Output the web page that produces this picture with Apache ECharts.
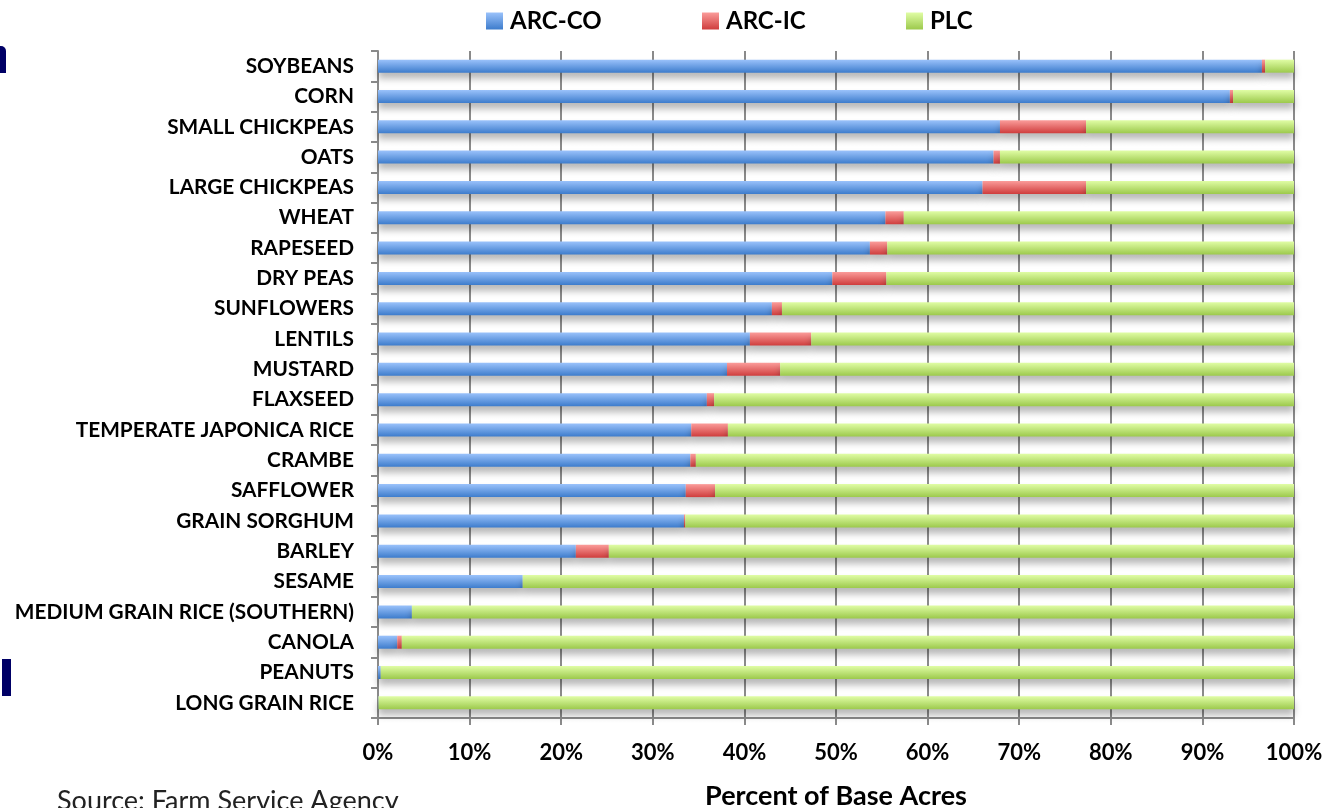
<!DOCTYPE html>
<html>
<head>
<meta charset="utf-8">
<script src="https://cdn.jsdelivr.net/npm/echarts@6/dist/echarts.min.js"></script>
<style>html,body{margin:0;padding:0;background:#fff;}#c{width:1328px;height:808px;}</style>
</head>
<body>
<div id="c"></div>
<script>
const categories = ["SOYBEANS","CORN","SMALL CHICKPEAS","OATS","LARGE CHICKPEAS","WHEAT","RAPESEED","DRY PEAS","SUNFLOWERS","LENTILS","MUSTARD","FLAXSEED","TEMPERATE JAPONICA RICE","CRAMBE","SAFFLOWER","GRAIN SORGHUM","BARLEY","SESAME","MEDIUM GRAIN RICE (SOUTHERN)","CANOLA","PEANUTS","LONG GRAIN RICE"];
const arcCO = [96.5,93.0,67.9,67.2,66.0,55.4,53.7,49.6,43.0,40.6,38.1,35.9,34.2,34.1,33.6,33.4,21.6,15.8,3.7,2.1,0.3,0.05];
const arcIC = [0.35,0.35,9.4,0.7,11.3,2.0,1.9,5.9,1.1,6.7,5.8,0.8,4.0,0.6,3.2,0.15,3.6,0.0,0.0,0.5,0.0,0.0];
const plc = [3.15,6.65,22.7,32.1,22.7,42.6,44.4,44.5,55.9,52.7,56.1,63.3,61.8,65.3,63.2,66.45,74.8,84.2,96.3,97.4,99.7,99.95];
const xTicks = [0,10,20,30,40,50,60,70,80,90,100];
const seriesNames = ["ARC-CO","ARC-IC","PLC"];

function grad(top, bottom){
  return new echarts.graphic.LinearGradient(0,0,0,1,[{offset:0,color:top},{offset:1,color:bottom}]);
}
const fills = [grad('#9ac2fb','#3d7ccc'), grad('#fb9c9a','#cf3d3d'), grad('#e0fda5','#9cc94c')];
const dataSets = [arcCO, arcIC, plc];
const FONT = 'Lato';

const chart = echarts.init(document.getElementById('c'), null, {renderer:'canvas'});
const legendLefts = [481, 697, 901];
chart.setOption({
  animation:false,
  backgroundColor:'#fff',
  legend: seriesNames.map((n,i)=>({
    data:[n], left:legendLefts[i], top:4, icon:'rect', itemWidth:17, itemHeight:17, itemGap:0,
    textStyle:{fontFamily:FONT, fontWeight:'bold', fontSize:24, color:'#000', padding:[0,0,0,2]}
  })),
  grid:{left:378, right:34, top:51, bottom:90, containLabel:false, outerBoundsMode:'none'},
  xAxis:{
    type:'value', min:0, max:100, interval:10,
    name:'Percent of Base Acres', nameLocation:'middle', nameGap:65,
    nameTextStyle:{fontFamily:FONT, fontWeight:'bold', fontSize:27, color:'#000'},
    axisLine:{show:true, lineStyle:{color:'#8a8a8a', width:2}},
    axisTick:{show:true, length:7, lineStyle:{color:'#8a8a8a', width:2}},
    axisLabel:{formatter:v=>v+'%', fontFamily:FONT, fontWeight:'bold', fontSize:22, color:'#000', margin:24},
    splitLine:{show:true, lineStyle:{color:'#8a8a8a', width:2}}
  },
  yAxis:{
    type:'category', data:categories, inverse:true,
    axisLine:{show:true, lineStyle:{color:'#8a8a8a', width:2}},
    axisTick:{show:true, length:7, alignWithLabel:false, lineStyle:{color:'#8a8a8a', width:2}},
    axisLabel:{fontFamily:FONT, fontWeight:'bold', fontSize:20.8, color:'#000', margin:24},
    splitLine:{show:false}
  },
  series: seriesNames.map((n,i)=>({
    name:n, type:'bar', stack:'total', barWidth:13,
    data:dataSets[i],
    itemStyle:{color:fills[i], shadowColor:'rgba(0,0,0,0.28)', shadowBlur:7, shadowOffsetY:6}
  })),
  graphic:[
    {type:'rect', shape:{x:0,y:46,width:6,height:27,r:[0,5,0,0]}, style:{fill:'#000066'}},
    {type:'rect', shape:{x:2,y:659,width:9,height:37}, style:{fill:'#000066'}},
    {type:'text', left:57, top:788, style:{text:'Source: Farm Service Agency', fontFamily:FONT, fontSize:27, fill:'#222'}}
  ]
});
</script>
</body>
</html>
